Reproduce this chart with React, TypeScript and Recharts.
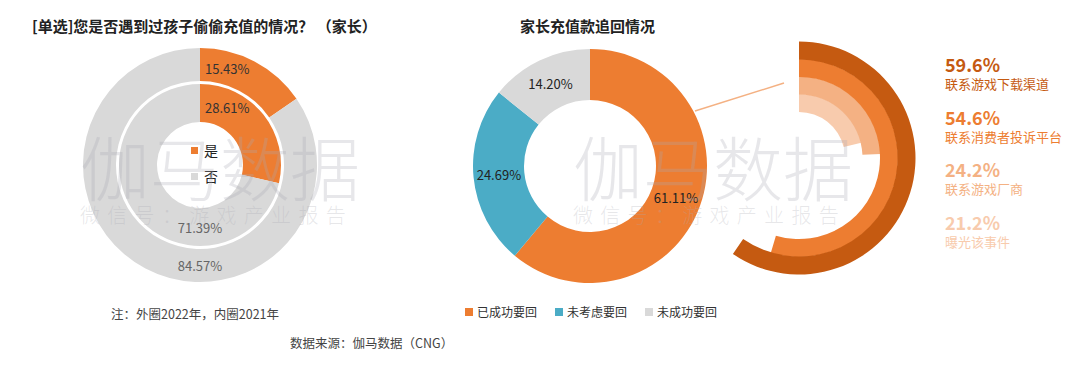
import React from 'react'
import { PieChart, Pie, Cell, RadialBarChart, RadialBar, PolarAngleAxis, PolarRadiusAxis } from 'recharts'

// left rings: 是 / 否, outer = 2022, inner = 2021
const ringNames = ['是', '否']
const outer2022 = [15.43, 84.57]
const inner2021 = [28.61, 71.39]
const ringColors = ['#ED7D31', '#D9D9D9']

// middle donut
const recoveryNames = ['已成功要回', '未考虑要回', '未成功要回']
const recoveryValues = [61.11, 24.69, 14.2]
const recoveryColors = ['#ED7D31', '#4BACC6', '#D9D9D9']

// right radial bars (how the money was recovered)
const channelNames = ['联系游戏下载渠道', '联系消费者投诉平台', '联系游戏厂商', '曝光该事件']
const channelValues = [59.6, 54.6, 24.2, 21.2]
const channelColors = ['#C55A11', '#ED7D31', '#F4B183', '#F8CBAD']

const FONT = '"Noto Sans CJK SC", "Noto Sans", sans-serif'
const RAD = Math.PI / 180
const NO_MARGIN = { top: 0, right: 0, bottom: 0, left: 0 }

const outerData = ringNames.map((name, i) => ({ name, value: outer2022[i] }))
const innerData = ringNames.map((name, i) => ({ name, value: inner2021[i] }))
const recoveryData = recoveryNames.map((name, i) => ({ name, value: recoveryValues[i] }))
// radial bars are laid out inner -> outer, so the biggest value goes last
const channelData = channelNames.map((name, i) => ({ name, value: channelValues[i], color: channelColors[i] })).reverse()

const ringLabel = (props: any) => {
  const { cx, cy, innerRadius, outerRadius, index, value } = props
  const r = (innerRadius + outerRadius) / 2
  if (index === 0) {
    return (
      <text x={cx + 5} y={cy - r + 4} textAnchor="start" dominantBaseline="central" fill="#333" fontSize={13} fontFamily={FONT}>
        {value.toFixed(2)}%
      </text>
    )
  }
  return (
    <text x={cx} y={cy + r} textAnchor="middle" dominantBaseline="central" fill="#666" fontSize={13} fontFamily={FONT}>
      {value.toFixed(2)}%
    </text>
  )
}

const midLabel = (props: any) => {
  const { cx, cy, innerRadius, outerRadius, midAngle, value } = props
  const r = (innerRadius + outerRadius) / 2
  const x = cx + r * Math.cos(-midAngle * RAD)
  const y = cy + r * Math.sin(-midAngle * RAD)
  return (
    <text x={x} y={y} textAnchor="middle" dominantBaseline="central" fill="#222" fontSize={13} fontFamily={FONT}>
      {value.toFixed(2)}%
    </text>
  )
}

const Watermark = ({ left }: { left: number }) => (
  <div style={{ position: 'absolute', left, top: 0, pointerEvents: 'none', color: 'rgba(170,170,180,0.28)', fontFamily: FONT, fontWeight: 300 }}>
    <div style={{ position: 'absolute', top: 131, left: 0, fontSize: 70, lineHeight: '70px', whiteSpace: 'nowrap' }}>伽马数据</div>
    <div style={{ position: 'absolute', top: 203, left: 0, fontSize: 20, lineHeight: '24px', letterSpacing: 7.3, whiteSpace: 'nowrap' }}>微信号：游戏产业报告</div>
  </div>
)

export default function App() {
  return (
    <div style={{ position: 'absolute', left: 0, top: 0, width: 1080, height: 368, background: '#fff', overflow: 'hidden', fontFamily: FONT }}>
      {/* titles */}
      <div style={{ position: 'absolute', left: 32, top: 15, fontSize: 15, fontWeight: 700, color: '#222', whiteSpace: 'pre' }}>
        [单选]您是否遇到过孩子偷偷充值的情况？ （家长）
      </div>
      <div style={{ position: 'absolute', left: 520, top: 15, fontSize: 15, fontWeight: 700, color: '#222' }}>家长充值款追回情况</div>

      <div style={{ position: 'absolute', left: 0, top: 0 }}>
        <PieChart width={1080} height={368} margin={NO_MARGIN}>
          <Pie data={outerData} dataKey="value" cx={200} cy={165} innerRadius={84} outerRadius={117} startAngle={90} endAngle={-270}
            stroke="none" labelLine={false} label={ringLabel} isAnimationActive={false}>
            {outerData.map((d, i) => <Cell key={d.name} fill={ringColors[i]} />)}
          </Pie>
          <Pie data={innerData} dataKey="value" cx={200} cy={165} innerRadius={43} outerRadius={81} startAngle={90} endAngle={-270}
            stroke="none" labelLine={false} label={ringLabel} isAnimationActive={false}>
            {innerData.map((d, i) => <Cell key={d.name} fill={ringColors[i]} />)}
          </Pie>
          <Pie data={recoveryData} dataKey="value" cx={590} cy={166} innerRadius={66} outerRadius={117} startAngle={90} endAngle={-270}
            stroke="none" labelLine={false} label={midLabel} isAnimationActive={false}>
            {recoveryData.map((d, i) => <Cell key={d.name} fill={recoveryColors[i]} />)}
          </Pie>
        </PieChart>
      </div>

      <div style={{ position: 'absolute', left: 0, top: 0 }}>
        <RadialBarChart width={1080} height={368} margin={NO_MARGIN} data={channelData} cx={799} cy={158} innerRadius={46} outerRadius={116}
          startAngle={90} endAngle={-270} barCategoryGap={0}>
          <PolarAngleAxis type="number" domain={[0, 100]} tick={false} axisLine={false} />
          <PolarRadiusAxis type="category" dataKey="name" tick={false} axisLine={false} />
          <RadialBar dataKey="value" isAnimationActive={false}>
            {channelData.map(d => <Cell key={d.name} fill={d.color} />)}
          </RadialBar>
        </RadialBarChart>
      </div>

      {/* connector between the donut and the radial bars */}
      <svg style={{ position: 'absolute', left: 0, top: 0 }} width={1080} height={368}>
        <line x1={695} y1={111} x2={784} y2={83} stroke="#F4B183" strokeWidth={1.5} />
      </svg>

      {/* centre legend of the rings */}
      {ringNames.map((name, i) => (
        <div key={name} style={{ position: 'absolute', left: 191, top: 141 + i * 26, display: 'flex', alignItems: 'center', fontSize: 14, color: '#222', lineHeight: '18px' }}>
          <span style={{ width: 7, height: 7, background: ringColors[i], marginRight: 6 }} />
          {name}
        </div>
      ))}

      {/* donut legend */}
      {recoveryNames.map((name, i) => (
        <div key={name} style={{ position: 'absolute', left: 465 + i * 90, top: 304, display: 'flex', alignItems: 'center', fontSize: 12, color: '#333', lineHeight: '16px' }}>
          <span style={{ width: 8, height: 8, background: recoveryColors[i], marginRight: 4 }} />
          {name}
        </div>
      ))}

      {/* radial bar labels */}
      {channelNames.map((name, i) => (
        <div key={name} style={{ position: 'absolute', left: 945, top: 53 + i * 52.5, color: channelColors[i] }}>
          <div style={{ fontSize: 18, fontWeight: 700, lineHeight: '22px' }}>{channelValues[i].toFixed(1)}%</div>
          <div style={{ fontSize: 13, lineHeight: '18px' }}>{name}</div>
        </div>
      ))}

      {/* notes */}
      <div style={{ position: 'absolute', left: 111, top: 304, fontSize: 12.5, color: '#444' }}>注：外圈2022年，内圈2021年</div>
      <div style={{ position: 'absolute', left: 290, top: 333, fontSize: 12.5, color: '#444' }}>数据来源：伽马数据（CNG）</div>

      <Watermark left={80} />
      <Watermark left={573} />
    </div>
  )
}
